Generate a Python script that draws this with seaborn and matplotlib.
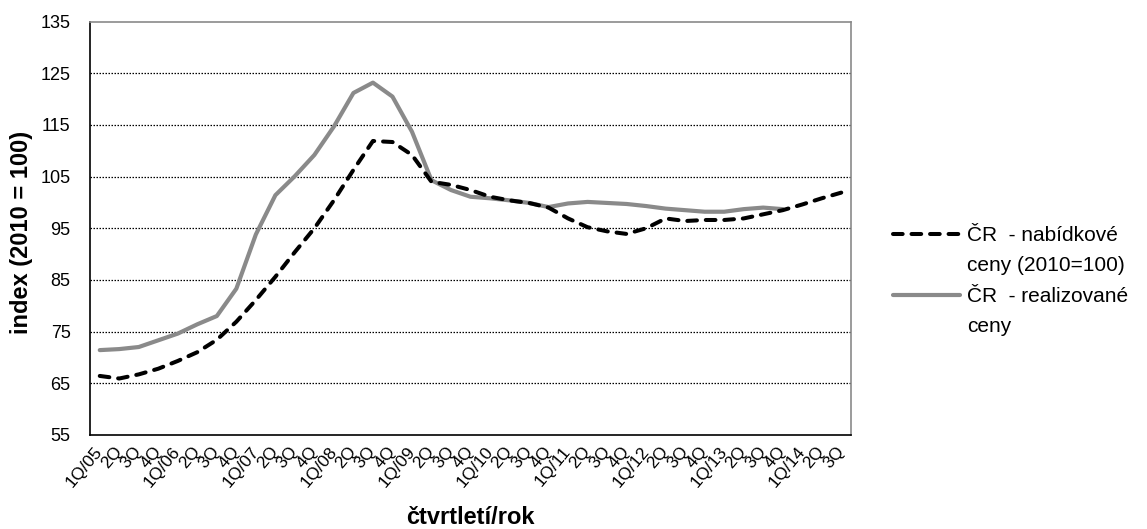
import numpy as np
import pandas as pd
import matplotlib
matplotlib.use("Agg")
import matplotlib.pyplot as plt
from matplotlib.lines import Line2D
from matplotlib.ticker import FixedLocator
import seaborn as sns

# ---- data ----
years = ["05", "06", "07", "08", "09", "10", "11", "12", "13", "14"]
quarter_labels = []
for y in years:
    for q in range(1, 5):
        quarter_labels.append(f"1Q/{y}" if q == 1 else f"{q}Q")
quarter_labels = quarter_labels[:39]  # 1Q/05 .. 3Q/14

offer_prices = [66.4, 65.9, 66.7, 67.8, 69.3, 71.0, 73.4, 76.9, 81.1, 85.6,
                90.4, 95.0, 100.4, 106.3, 111.9, 111.7, 109.2, 104.0, 103.4, 102.4,
                101.1, 100.4, 99.9, 99.0, 96.9, 95.2, 94.4, 93.9, 95.0, 96.9,
                96.4, 96.6, 96.6, 96.9, 97.7, 98.5, 99.6, 100.8, 101.9]
realized_prices = [71.4, 71.6, 72.0, 73.3, 74.6, 76.4, 78.0, 83.3, 93.8, 101.4,
                   105.1, 109.2, 114.7, 121.2, 123.2, 120.5, 113.7, 104.3, 102.4, 101.1,
                   100.8, 100.4, 99.9, 99.1, 99.8, 100.1, 99.9, 99.7, 99.3, 98.8,
                   98.5, 98.2, 98.2, 98.7, 99.0, 98.7]

label_offer = "ČR  - nabídkové"
label_offer2 = "ceny (2010=100)"
label_real = "ČR  - realizované"
label_real2 = "ceny"
y_label = "index (2010 = 100)"
x_label = "čtvrtletí/rok"
y_ticks = [55, 65, 75, 85, 95, 105, 115, 125, 135]

# ---- plot ----
sns.set_theme(style="white")
plt.rcParams["font.family"] = ["Liberation Sans", "DejaVu Sans"]
plt.rcParams.update({"text.color": "black", "axes.labelcolor": "black",
                     "xtick.color": "black", "ytick.color": "black"})

W, H = 1147, 529
fig = plt.figure(figsize=(W / 100, H / 100), dpi=100)
ax = fig.add_axes([90 / W, 1 - 434.8 / H, (851 - 90) / W, (434.8 - 21.7) / H])

df_offer = pd.DataFrame({"pos": np.arange(len(offer_prices)), "val": offer_prices})
df_real = pd.DataFrame({"pos": np.arange(len(realized_prices)), "val": realized_prices})

GRAY = "#8a8a8a"
DASH = (0, (2.4, 2.2))

# gridlines
for yv in y_ticks[1:-1]:
    ax.axhline(yv, color="black", lw=0.9, ls=(0, (1.2, 1.2)), zorder=0)

sns.lineplot(data=df_real, x="pos", y="val", ax=ax, color=GRAY, lw=3.0, zorder=3)
sns.lineplot(data=df_offer, x="pos", y="val", ax=ax, color="black", lw=2.9, zorder=4)
ax.lines[-1].set_linestyle(DASH)
ax.lines[-1].set_dash_capstyle("round")

ax.set_xlim(-0.5, 38.5)
ax.set_ylim(55, 135)
ax.set_yticks(y_ticks)
ax.set_yticklabels([str(v) for v in y_ticks], fontsize=13)

# category labels at centers (minor), tick marks at boundaries every 4 (major)
major_pos = np.arange(-0.5, 38.5, 4)
ax.xaxis.set_major_locator(FixedLocator(major_pos))
ax.set_xticklabels([""] * len(major_pos))
ax.set_xticks(np.arange(39), minor=True)
ax.set_xticklabels(quarter_labels, minor=True, rotation=50, ha="right",
                   va="center", rotation_mode="anchor", fontsize=12.5)
ax.tick_params(axis="x", which="minor", length=0, pad=10)
ax.tick_params(axis="x", which="major", length=5, width=1, color="black", direction="out")
ax.tick_params(axis="y", length=5, width=1, color="black", direction="out", pad=9)

for side in ["left", "bottom"]:
    ax.spines[side].set_color("black")
    ax.spines[side].set_linewidth(1.2)
for side in ["top", "right"]:
    ax.spines[side].set_color(GRAY)
    ax.spines[side].set_linewidth(1.2)

ax.set_xlabel(x_label, fontsize=17, fontweight="bold", va="center")
ax.set_ylabel(y_label, fontsize=17, fontweight="bold", va="center")
ax.xaxis.set_label_coords(0.5, -(517 - 434.8) / (434.8 - 21.7))
ax.yaxis.set_label_coords((22 - 90) / (851 - 90), 0.49)

# legend (Excel-style wrapped labels)
h_offer = Line2D([], [], color="black", lw=2.9, ls=DASH, dash_capstyle="round")
h_real = Line2D([], [], color=GRAY, lw=3.0)
h_blank = Line2D([], [], color="none", lw=0)
fig.legend([h_offer, h_blank, h_real, h_blank],
           [label_offer, label_offer2, label_real, label_real2],
           loc="upper left", bbox_to_anchor=(893 / W, 1 - 226 / H),
           frameon=False, fontsize=15, handlelength=3.2, handletextpad=0.35,
           labelspacing=0.55, borderaxespad=0, borderpad=0)

fig.savefig("out.png", dpi=100, facecolor="white")
